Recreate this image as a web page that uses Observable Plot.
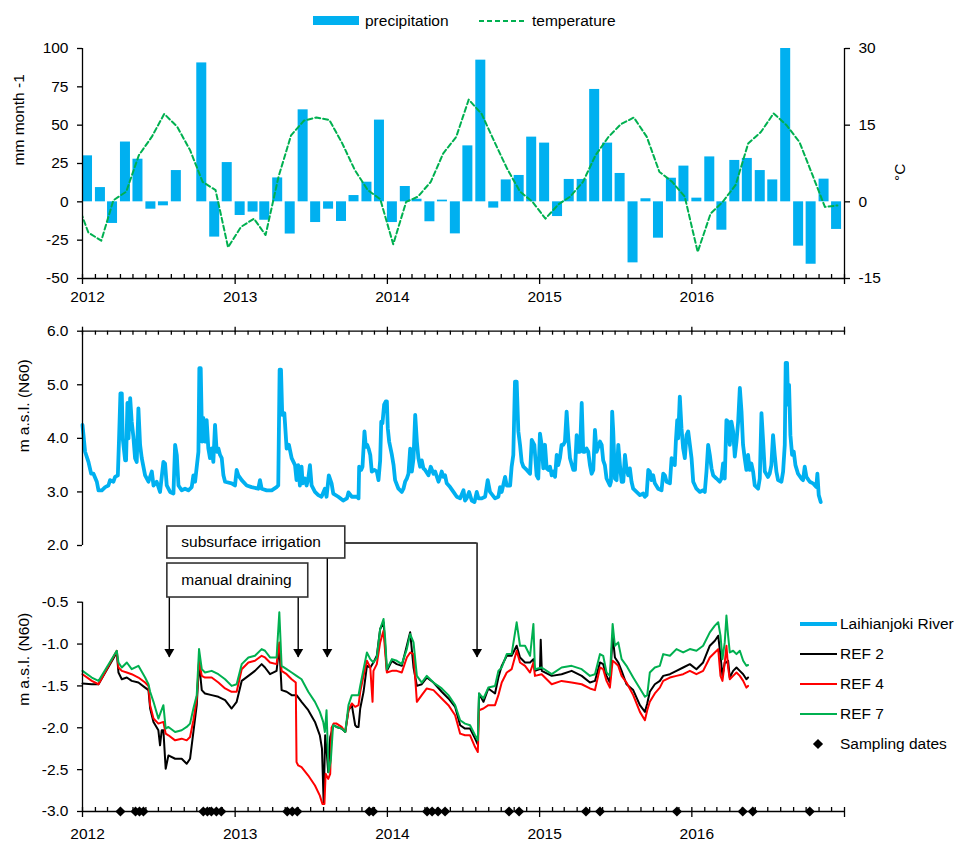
<!DOCTYPE html>
<html><head><meta charset="utf-8">
<script src="https://cdn.jsdelivr.net/npm/d3@7"></script>
<script src="https://cdn.jsdelivr.net/npm/@observablehq/plot@0.6"></script>
<style>
body{margin:0;background:#fff;}
#wrap{position:relative;width:957px;height:841px;overflow:hidden;font-family:"Liberation Sans",Arial,Helvetica,sans-serif;color:#000;}
</style></head><body><div id="wrap"></div>
<script>
// ---------------- DATA ----------------
// monthly precipitation surplus (mm month-1), Jan 2012 .. Dec 2016
const precipitation = [
  30, 9.3, -14.1, 39, 27.8, -4.8, -2.6, 20.4, 0, 90.6, -23, 25.6,
  -8.9, -6.7, -12, 15.6, -21, 60, -13.5, -4.8, -12.8, 4.1, 12.8, 53.3,
  -13.5, 10, 1.7, -13, 1.1, -20.9, 36.5, 92.4, -4.1, 14.3, 17.2, 42.2,
  38.3, -9.6, 14.6, 14.6, 73.3, 38.3, 18.5, -39.8, 2, -23.7, 15.4, 23.3,
  2.4, 29.3, -18.5, 27, 28.3, 20.4, 14.3, 100, -28.9, -40.7, 14.8, -18
];
// monthly mean temperature (°C), Dec 2011 .. Dec 2016
const temperatureDec2011 = 0.8;
const temperature = [
  -6.0, -7.6, 0.3, 2.0, 9.1, 12.7, 17.2, 14.7, 10.1, 3.9, 2.3, -8.9,
  -4.9, -3.3, -6.5, 4.9, 13.0, 15.9, 16.5, 16.0, 11.4, 6.2, 2.3, 0.5,
  -8.3, 0.0, 1.0, 3.9, 9.5, 12.7, 20.0, 17.2, 11.7, 6.5, 2.0, 0.0,
  -3.3, -0.5, 1.0, 3.9, 9.1, 12.7, 15.2, 16.5, 12.7, 5.9, 3.9, 1.0,
  -9.8, -2.3, 0.0, 3.3, 11.4, 13.7, 17.3, 15.0, 11.7, 5.5, -1.0, -0.7
];
// river water level [decimal year, m a.s.l.]
const riverLevel = [
[2012.000,4.25],[2012.017,3.75],[2012.039,3.56],[2012.057,3.34],[2012.072,3.34],[2012.094,3.19],[2012.105,3.03],[2012.127,3.03],[2012.149,3.09],[2012.170,3.12],[2012.181,3.22],[2012.203,3.19],[2012.214,3.28],[2012.232,3.31],[2012.240,4.00],[2012.249,4.84],[2012.258,4.84],[2012.264,4.00],[2012.280,3.59],[2012.286,3.59],[2012.295,4.66],[2012.302,4.00],[2012.313,4.75],[2012.323,4.31],[2012.334,4.03],[2012.345,3.63],[2012.356,3.56],[2012.367,4.56],[2012.378,3.88],[2012.389,3.63],[2012.411,3.31],[2012.433,3.19],[2012.455,3.38],[2012.466,3.12],[2012.487,3.19],[2012.509,3.00],[2012.531,3.56],[2012.542,3.53],[2012.553,3.12],[2012.575,3.00],[2012.597,2.97],[2012.608,3.88],[2012.619,3.69],[2012.630,3.12],[2012.651,3.03],[2012.673,3.06],[2012.695,3.03],[2012.717,3.09],[2012.728,3.31],[2012.739,3.19],[2012.761,3.75],[2012.767,5.31],[2012.776,5.31],[2012.785,3.94],[2012.793,4.38],[2012.804,3.94],[2012.815,4.34],[2012.826,3.81],[2012.837,3.63],[2012.848,3.81],[2012.859,3.56],[2012.870,4.25],[2012.881,3.75],[2012.892,3.81],[2012.903,3.69],[2012.914,3.63],[2012.925,3.31],[2012.936,3.19],[2012.979,3.16],[2013.001,3.12],[2013.012,3.41],[2013.023,3.31],[2013.045,3.22],[2013.078,3.12],[2013.110,3.09],[2013.154,3.06],[2013.165,3.22],[2013.176,3.06],[2013.209,3.03],[2013.242,3.03],[2013.274,3.09],[2013.285,3.12],[2013.294,5.28],[2013.303,5.28],[2013.311,4.44],[2013.325,4.47],[2013.340,3.81],[2013.355,3.88],[2013.373,3.63],[2013.395,3.50],[2013.405,3.22],[2013.416,3.50],[2013.427,3.12],[2013.438,3.47],[2013.445,3.16],[2013.460,3.25],[2013.471,3.12],[2013.482,3.25],[2013.493,3.50],[2013.504,3.12],[2013.526,3.00],[2013.548,2.94],[2013.569,2.91],[2013.591,3.06],[2013.602,2.91],[2013.617,3.31],[2013.635,3.16],[2013.646,2.97],[2013.679,2.91],[2013.711,2.84],
[2013.736,2.88],[2013.746,2.99],[2013.768,2.91],[2013.801,2.91],[2013.812,2.88],[2013.816,3.47],[2013.829,3.41],[2013.838,3.47],[2013.851,4.13],[2013.860,3.84],[2013.869,3.88],[2013.878,3.81],[2013.889,3.69],[2013.899,3.38],[2013.917,3.41],[2013.932,3.38],[2013.943,3.22],[2013.954,3.59],[2013.961,4.31],[2013.969,4.28],[2013.980,4.63],[2013.991,4.69],[2013.998,4.69],[2014.004,4.19],[2014.013,3.94],[2014.031,3.69],[2014.042,3.50],[2014.052,3.22],[2014.074,3.06],[2014.096,3.00],[2014.107,3.06],[2014.118,3.19],[2014.129,3.25],[2014.140,3.34],[2014.151,3.81],[2014.162,3.38],[2014.173,3.63],[2014.184,4.44],[2014.195,3.94],[2014.205,3.63],[2014.216,3.47],[2014.227,3.59],[2014.238,3.44],[2014.249,3.41],[2014.271,3.31],[2014.286,3.47],[2014.304,3.34],[2014.315,3.38],[2014.337,3.19],[2014.348,3.28],[2014.358,3.38],[2014.369,3.28],[2014.380,3.31],[2014.391,3.16],[2014.413,3.09],[2014.435,3.00],[2014.457,2.91],[2014.479,2.88],[2014.501,3.03],[2014.511,2.84],[2014.522,2.88],[2014.538,3.00],[2014.555,2.84],[2014.573,2.81],[2014.588,3.00],[2014.599,2.88],[2014.621,2.88],[2014.643,2.91],[2014.660,3.22],[2014.675,3.00],[2014.708,2.88],[2014.730,2.91],[2014.741,3.09],[2014.752,3.00],[2014.774,3.28],[2014.785,3.12],[2014.807,3.12],[2014.817,3.47],[2014.828,3.69],[2014.839,5.06],[2014.850,5.06],[2014.861,4.13],[2014.872,3.88],[2014.883,3.56],[2014.894,3.47],[2014.916,3.41],[2014.938,3.34],[2014.949,3.97],[2014.966,3.88],[2014.981,3.31],[2014.992,3.25],[2015.003,4.09],[2015.014,3.88],[2015.025,3.44],[2015.036,3.88],[2015.047,3.44],[2015.058,3.41],[2015.069,3.47],[2015.080,3.31],[2015.091,3.38],[2015.102,3.28],[2015.113,3.69],[2015.123,3.50],[2015.134,3.63],[2015.145,3.88],[2015.156,3.88],[2015.167,3.94],[2015.178,4.50],[2015.189,4.00],[2015.200,3.63],[2015.222,3.41],[2015.233,3.41],[2015.244,4.06],[2015.255,3.75],[2015.266,3.75],[2015.277,4.66],[2015.287,3.75],[2015.298,3.75],[2015.309,3.81],[2015.320,3.75],[2015.331,3.50],[2015.342,3.34],[2015.353,3.41],[2015.364,4.16],[2015.375,3.75],[2015.397,3.94],
[2015.408,3.88],[2015.418,3.59],[2015.429,3.50],[2015.440,3.25],[2015.462,3.12],[2015.469,3.19],[2015.477,4.50],[2015.484,4.13],[2015.495,3.25],[2015.506,3.22],[2015.517,3.88],[2015.528,3.50],[2015.539,3.19],[2015.550,3.19],[2015.561,3.69],[2015.571,3.44],[2015.582,3.31],[2015.593,3.44],[2015.604,3.19],[2015.615,3.06],[2015.637,3.00],[2015.659,2.94],[2015.681,2.97],[2015.692,2.91],[2015.703,2.94],[2015.714,3.41],[2015.724,3.38],[2015.735,3.22],[2015.746,3.31],[2015.757,3.16],[2015.779,3.06],[2015.801,3.03],[2015.812,3.34],[2015.823,3.31],[2015.834,3.19],[2015.856,3.16],[2015.867,3.63],[2015.877,3.59],[2015.888,3.50],[2015.895,3.94],[2015.904,4.34],[2015.910,4.00],[2015.921,4.78],[2015.932,4.19],[2015.943,3.81],[2015.954,3.63],[2015.965,4.06],[2015.976,4.13],[2015.987,3.88],[2015.998,3.63],[2016.009,3.19],[2016.030,3.06],[2016.052,3.00],[2016.074,3.03],[2016.085,3.00],[2016.096,3.38],[2016.107,3.88],[2016.118,3.69],[2016.129,3.44],[2016.140,3.31],[2016.162,3.25],[2016.183,3.19],[2016.194,3.25],[2016.205,3.53],[2016.216,3.25],[2016.227,4.34],[2016.238,4.31],[2016.249,3.88],[2016.260,4.31],[2016.271,4.13],[2016.282,3.66],[2016.293,3.94],[2016.304,4.31],[2016.315,4.94],[2016.326,4.50],[2016.336,3.88],[2016.347,3.63],[2016.358,3.41],[2016.369,3.69],[2016.380,3.41],[2016.391,3.53],[2016.402,3.38],[2016.413,3.12],[2016.435,3.06],[2016.446,3.25],[2016.457,4.47],[2016.468,3.94],[2016.479,3.38],[2016.500,3.28],[2016.511,3.34],[2016.522,3.50],[2016.533,4.06],[2016.544,3.69],[2016.555,3.38],[2016.566,3.22],[2016.588,3.19],[2016.599,3.38],[2016.610,3.88],[2016.616,5.41],[2016.625,5.41],[2016.632,4.63],[2016.638,5.00],[2016.647,4.06],[2016.658,3.69],[2016.669,3.75],[2016.680,3.50],[2016.697,3.34],[2016.719,3.25],[2016.730,3.22],[2016.741,3.47],[2016.752,3.28],[2016.774,3.19],[2016.795,3.16],[2016.817,3.09],[2016.824,3.34],[2016.833,2.94],[2016.846,2.81]
];
// groundwater levels [decimal year, m a.s.l.]
const ref2 = [
[2012.000,-1.47],[2012.061,-1.48],[2012.105,-1.48],[2012.225,-1.10],[2012.236,-1.34],[2012.258,-1.42],[2012.291,-1.40],[2012.323,-1.44],[2012.367,-1.46],[2012.411,-1.52],[2012.433,-1.55],[2012.444,-1.77],[2012.466,-1.93],[2012.498,-2.03],[2012.509,-2.21],[2012.520,-2.03],[2012.531,-2.03],[2012.546,-2.49],[2012.564,-2.33],[2012.608,-2.37],[2012.651,-2.37],[2012.684,-2.43],[2012.706,-2.37],[2012.728,-2.05],[2012.750,-1.73],[2012.765,-1.22],[2012.783,-1.55],[2012.804,-1.59],[2012.848,-1.61],[2012.892,-1.63],[2012.936,-1.67],[2012.979,-1.77],[2013.012,-1.69],[2013.045,-1.44],[2013.089,-1.38],[2013.132,-1.32],[2013.176,-1.24],[2013.198,-1.28],[2013.231,-1.36],[2013.274,-1.32],[2013.292,-1.02],[2013.307,-1.55],[2013.340,-1.57],[2013.373,-1.61],[2013.405,-1.61],[2013.438,-1.69],[2013.482,-1.79],[2013.526,-1.93],[2013.558,-2.09],[2013.572,-2.25],[2013.583,-2.89],[2013.593,-2.09],[2013.604,-2.31],[2013.613,-2.53],[2013.626,-2.11],[2013.648,-1.97],[2013.668,-1.99],[2013.701,-2.01],
[2013.725,-2.05],[2013.746,-1.79],[2013.768,-1.73],[2013.790,-1.97],[2013.801,-1.99],[2013.812,-1.99],[2013.823,-1.77],[2013.845,-1.57],[2013.867,-1.26],[2013.889,-1.28],[2013.910,-1.22],[2013.932,-1.14],[2013.954,-0.82],[2013.976,-0.74],[2013.987,-1.02],[2013.998,-1.32],[2014.031,-1.20],[2014.063,-1.24],[2014.096,-1.26],[2014.129,-1.02],[2014.151,-0.86],[2014.173,-1.28],[2014.195,-1.50],[2014.227,-1.48],[2014.260,-1.40],[2014.304,-1.46],[2014.358,-1.57],[2014.402,-1.65],[2014.446,-1.75],[2014.479,-1.97],[2014.511,-2.01],[2014.544,-2.01],[2014.577,-2.13],[2014.595,-2.20],[2014.603,-1.59],[2014.632,-1.69],[2014.664,-1.53],[2014.708,-1.59],[2014.730,-1.40],[2014.752,-1.26],[2014.785,-1.14],[2014.817,-1.14],[2014.850,-1.02],[2014.872,-1.16],[2014.905,-1.22],[2014.938,-1.22],[2014.960,-1.18],[2014.970,-1.32],[2015.003,-1.30],[2015.008,-0.95],[2015.015,-1.32],[2015.080,-1.38],[2015.145,-1.36],[2015.211,-1.32],[2015.277,-1.38],[2015.331,-1.46],
[2015.364,-1.44],[2015.397,-1.22],[2015.418,-1.24],[2015.440,-1.38],[2015.462,-1.46],[2015.480,-0.90],[2015.495,-1.16],[2015.517,-1.22],[2015.539,-1.32],[2015.571,-1.48],[2015.615,-1.55],[2015.659,-1.73],[2015.692,-1.81],[2015.707,-1.71],[2015.724,-1.57],[2015.757,-1.48],[2015.790,-1.44],[2015.812,-1.38],[2015.856,-1.36],[2015.899,-1.32],[2015.943,-1.28],[2015.987,-1.24],[2016.030,-1.30],[2016.074,-1.22],[2016.118,-1.02],[2016.151,-0.96],[2016.173,-0.90],[2016.188,-1.14],[2016.201,-1.38],[2016.216,-1.22],[2016.227,-1.22],[2016.238,-1.20],[2016.249,-1.40],[2016.271,-1.32],[2016.293,-1.28],[2016.315,-1.32],[2016.337,-1.36],[2016.358,-1.42],[2016.369,-1.40]
];
const ref4 = [
[2012.000,-1.36],[2012.061,-1.44],[2012.105,-1.48],[2012.225,-1.08],[2012.236,-1.28],[2012.258,-1.32],[2012.291,-1.34],[2012.323,-1.36],[2012.367,-1.40],[2012.411,-1.46],[2012.433,-1.50],[2012.444,-1.73],[2012.466,-1.89],[2012.498,-1.95],[2012.531,-1.93],[2012.546,-2.07],[2012.564,-2.09],[2012.608,-2.15],[2012.651,-2.13],[2012.684,-2.15],[2012.706,-2.11],[2012.728,-1.91],[2012.750,-1.65],[2012.765,-1.20],[2012.783,-1.38],[2012.804,-1.40],[2012.848,-1.40],[2012.892,-1.46],[2012.936,-1.53],[2012.979,-1.57],[2013.012,-1.57],[2013.045,-1.30],[2013.089,-1.22],[2013.132,-1.20],[2013.176,-1.14],[2013.198,-1.16],[2013.231,-1.22],[2013.274,-1.24],[2013.292,-0.98],[2013.307,-1.32],[2013.340,-1.36],[2013.373,-1.42],[2013.400,-1.46],[2013.405,-2.41],[2013.416,-2.45],[2013.438,-2.47],[2013.482,-2.57],[2013.526,-2.69],[2013.558,-2.81],[2013.575,-2.91],[2013.588,-2.91],[2013.596,-2.55],[2013.613,-2.61],[2013.626,-2.55],[2013.635,-2.00],[2013.648,-1.95],[2013.668,-1.95],[2013.701,-1.99],
[2013.725,-2.05],[2013.746,-1.79],[2013.768,-1.71],[2013.790,-1.75],[2013.812,-1.73],[2013.823,-1.57],[2013.845,-1.38],[2013.867,-1.20],[2013.889,-1.28],[2013.904,-1.69],[2013.910,-1.32],[2013.932,-1.24],[2013.954,-0.98],[2013.976,-0.84],[2013.987,-1.10],[2013.998,-1.34],[2014.031,-1.32],[2014.063,-1.32],[2014.096,-1.34],[2014.129,-1.16],[2014.151,-1.10],[2014.173,-1.12],[2014.195,-1.69],[2014.227,-1.61],[2014.260,-1.53],[2014.304,-1.55],[2014.358,-1.65],[2014.402,-1.73],[2014.446,-1.85],[2014.479,-2.07],[2014.511,-2.09],[2014.544,-2.09],[2014.577,-2.23],[2014.595,-2.29],[2014.603,-1.79],[2014.632,-1.77],[2014.664,-1.73],[2014.708,-1.73],[2014.730,-1.61],[2014.752,-1.46],[2014.785,-1.34],[2014.817,-1.30],[2014.850,-1.08],[2014.872,-1.22],[2014.905,-1.26],[2014.938,-1.34],[2014.960,-1.22],[2014.970,-1.38],[2015.014,-1.36],[2015.080,-1.48],[2015.145,-1.44],[2015.211,-1.46],[2015.277,-1.48],[2015.331,-1.53],
[2015.364,-1.55],[2015.397,-1.28],[2015.418,-1.30],[2015.440,-1.44],[2015.462,-1.52],[2015.480,-1.20],[2015.495,-1.22],[2015.517,-1.26],[2015.539,-1.38],[2015.571,-1.46],[2015.615,-1.61],[2015.659,-1.81],[2015.692,-1.91],[2015.707,-1.79],[2015.724,-1.69],[2015.757,-1.59],[2015.790,-1.52],[2015.812,-1.44],[2015.856,-1.40],[2015.899,-1.38],[2015.943,-1.36],[2015.987,-1.32],[2016.030,-1.36],[2016.074,-1.32],[2016.118,-1.16],[2016.151,-1.10],[2016.173,-1.06],[2016.188,-1.38],[2016.201,-1.44],[2016.216,-1.22],[2016.227,-1.02],[2016.238,-1.28],[2016.249,-1.42],[2016.271,-1.38],[2016.293,-1.34],[2016.315,-1.38],[2016.337,-1.44],[2016.358,-1.52],[2016.369,-1.50]
];
const ref7 = [
[2012.000,-1.32],[2012.061,-1.40],[2012.105,-1.44],[2012.225,-1.08],[2012.236,-1.22],[2012.258,-1.28],[2012.291,-1.22],[2012.323,-1.30],[2012.367,-1.26],[2012.411,-1.40],[2012.433,-1.48],[2012.444,-1.57],[2012.466,-1.69],[2012.498,-1.89],[2012.531,-1.73],[2012.546,-2.01],[2012.564,-1.99],[2012.608,-2.05],[2012.651,-2.03],[2012.684,-1.99],[2012.706,-1.95],[2012.728,-1.77],[2012.750,-1.61],[2012.765,-1.06],[2012.783,-1.30],[2012.804,-1.34],[2012.848,-1.32],[2012.892,-1.36],[2012.936,-1.42],[2012.979,-1.50],[2013.012,-1.48],[2013.045,-1.24],[2013.089,-1.16],[2013.132,-1.14],[2013.176,-1.06],[2013.198,-1.08],[2013.231,-1.16],[2013.274,-1.16],[2013.292,-0.62],[2013.307,-1.26],[2013.340,-1.30],[2013.373,-1.34],[2013.405,-1.38],[2013.438,-1.42],[2013.482,-1.57],[2013.526,-1.69],[2013.558,-1.81],[2013.580,-1.93],[2013.591,-2.05],[2013.602,-1.79],[2013.615,-2.53],[2013.630,-2.39],[2013.645,-1.97],[2013.668,-1.99],[2013.701,-2.01],
[2013.725,-2.05],[2013.746,-1.73],[2013.768,-1.61],[2013.790,-1.61],[2013.812,-1.61],[2013.823,-1.50],[2013.845,-1.30],[2013.867,-1.10],[2013.889,-1.18],[2013.910,-1.22],[2013.932,-1.16],[2013.954,-0.82],[2013.976,-0.70],[2013.987,-0.94],[2013.998,-1.30],[2014.031,-1.18],[2014.063,-1.20],[2014.096,-1.24],[2014.129,-1.06],[2014.151,-0.88],[2014.173,-0.98],[2014.195,-1.38],[2014.227,-1.46],[2014.260,-1.38],[2014.304,-1.46],[2014.358,-1.53],[2014.402,-1.61],[2014.446,-1.73],[2014.479,-1.91],[2014.511,-1.95],[2014.544,-1.97],[2014.577,-2.09],[2014.595,-2.15],[2014.603,-1.59],[2014.632,-1.65],[2014.664,-1.52],[2014.708,-1.50],[2014.730,-1.32],[2014.752,-1.28],[2014.785,-1.12],[2014.817,-1.12],[2014.850,-0.74],[2014.872,-1.02],[2014.905,-1.02],[2014.938,-1.14],[2014.960,-0.76],[2014.970,-1.30],[2015.014,-1.28],[2015.080,-1.36],[2015.145,-1.28],[2015.211,-1.26],[2015.277,-1.30],[2015.331,-1.38],
[2015.364,-1.36],[2015.397,-1.12],[2015.418,-1.14],[2015.440,-1.34],[2015.462,-1.38],[2015.480,-0.76],[2015.495,-1.02],[2015.517,-0.98],[2015.539,-1.18],[2015.571,-1.26],[2015.615,-1.40],[2015.659,-1.53],[2015.692,-1.63],[2015.707,-1.61],[2015.724,-1.34],[2015.757,-1.28],[2015.790,-1.26],[2015.812,-1.12],[2015.856,-1.14],[2015.899,-1.06],[2015.943,-1.10],[2015.987,-1.06],[2016.030,-1.08],[2016.074,-1.02],[2016.118,-0.86],[2016.151,-0.78],[2016.173,-0.74],[2016.188,-0.90],[2016.201,-1.18],[2016.216,-0.98],[2016.227,-0.66],[2016.238,-0.90],[2016.249,-1.10],[2016.271,-1.08],[2016.293,-1.12],[2016.315,-1.08],[2016.337,-1.20],[2016.358,-1.26],[2016.369,-1.25]
];
// sampling dates (decimal year)
const samplingDates = [2012.249, 2012.348, 2012.374, 2012.400, 2012.793, 2012.820, 2012.846, 2012.879, 2012.911,
  2013.344, 2013.377, 2013.410, 2013.882, 2013.908, 2014.262, 2014.295, 2014.334, 2014.380,
  2014.800, 2014.866, 2015.305, 2015.397, 2015.902, 2016.334, 2016.400, 2016.774];
// management events (decimal year) shown with arrows
const annotationLabels = ["subsurface irrigation", "manual draining"];
const eventDates = {"manual draining": [2012.570, 2013.416], "subsurface irrigation": [2013.607, 2014.590]};
const seriesNames = ["Laihianjoki River", "REF 2", "REF 4", "REF 7", "Sampling dates"];
const topLegendNames = ["precipitation", "temperature"];

// ---------------- SETUP ----------------
const FONT = '"Liberation Sans", Arial, Helvetica, sans-serif';
const BLUE = "#00B0F0", GREEN = "#00B050", RED = "#FF0000", BLACK = "#000000";
const FS = "15.5px";
const wrap = document.getElementById("wrap");
const T0 = Date.UTC(2012, 0, 1);
const yr = t => new Date(T0 + (t - 2012) * 365.25 * 864e5);
const xStart = new Date(Date.UTC(2012, 0, 1)), xEnd = new Date(Date.UTC(2017, 0, 1));
const monthTicks = d3.utcMonth.range(xStart, new Date(+xEnd + 1));
const yearTicks = d3.utcYear.range(xStart, new Date(+xEnd + 1));
const yearLabelTicks = yearTicks.filter(d => d < xEnd);
const styleStr = `background:transparent;font-family:${FONT};font-size:${FS};color:#000;overflow:visible;`;
const AX = {stroke: BLACK, strokeWidth: 1.3};

function place(el, top) {
  el.style.position = "absolute"; el.style.left = "0px"; el.style.top = top + "px";
  wrap.appendChild(el);
}
const precipData = precipitation.map((p, i) => {
  const s = new Date(Date.UTC(2012, i, 1));
  return {start: s, end: new Date(+s + 24 * 864e5), p};
});
const tempData = [{x: new Date(Date.UTC(2011, 11, 15)), T: temperatureDec2011}]
  .concat(temperature.map((T, i) => ({x: new Date(Date.UTC(2012, i, 15)), T})));
const toPts = arr => arr.map(([t, v]) => ({x: yr(t), v}));

function bottomAxis(yBase, pad) {
  return [
    Plot.ruleY([yBase], AX),
    Plot.ruleX(monthTicks, {x: d => d, y1: yBase, y2: yBase, insetTop: -4, ...AX}),
    Plot.axisX({ticks: yearTicks, tickSize: 6, tickFormat: () => "", label: null, strokeWidth: 1.3}),
    Plot.axisX({ticks: yearLabelTicks, tickSize: 0, tickPadding: pad, dx: 5, label: null,
      tickFormat: d => String(d.getUTCFullYear())})
  ];
}
function leftAxis(ticks, fmt, xLabel, dx, dy) {
  return [
    Plot.ruleX([xStart], AX),
    Plot.axisY({ticks, tickSize: 5, tickPadding: 9, tickFormat: fmt, label: null, strokeWidth: 1.3}),
    Plot.text([xLabel], {text: d => d, frameAnchor: "left", dx, dy, rotate: -90})
  ];
}

// ---------------- TOP PANEL ----------------
const p1 = Plot.plot({
  width: 957, height: 310, marginLeft: 82, marginRight: 113, marginTop: 48, marginBottom: 32,
  style: styleStr,
  x: {type: "utc", domain: [xStart, xEnd]},
  y: {domain: [-50, 100]},
  marks: [
    Plot.rect(precipData, {x1: "start", x2: "end", y1: 0, y2: "p", fill: BLUE}),
    Plot.line(tempData, {x: "x", y: d => d.T * 10 / 3, stroke: GREEN, strokeWidth: 2, strokeDasharray: "5,3", clip: true}),
    ...bottomAxis(-50, 12),
    ...leftAxis([-50, -25, 0, 25, 50, 75, 100], d => String(d), "mm month -1", -63, 2),
    Plot.ruleX([xEnd], AX),
    Plot.axisY({anchor: "right", ticks: [-50, 0, 50, 100], tickSize: 5, tickPadding: 9, label: null,
      strokeWidth: 1.3, tickFormat: d => String(Math.round(d * 3 / 10))}),
    Plot.text(["°C"], {text: d => d, frameAnchor: "right", dx: 56, rotate: -90})
  ]
});
place(p1, 0);

// ---------------- MIDDLE PANEL ----------------
const p2 = Plot.plot({
  width: 957, height: 245, marginLeft: 82, marginRight: 113, marginTop: 20.7, marginBottom: 10,
  style: styleStr,
  x: {type: "utc", domain: [xStart, xEnd]},
  y: {domain: [2, 6]},
  marks: [
    Plot.line(toPts(riverLevel), {x: "x", y: "v", stroke: BLUE, strokeWidth: 3.8, strokeLinejoin: "round"}),
    Plot.ruleY([6], AX),
    Plot.ruleX(monthTicks, {x: d => d, y1: 6, y2: 6, insetBottom: -4, ...AX}),
    Plot.axisX({anchor: "top", ticks: yearTicks, tickSize: 5, tickFormat: () => "", label: null, strokeWidth: 1.3}),
    ...leftAxis([2, 3, 4, 5, 6], d => d.toFixed(1), "m a.s.l. (N60)", -58, 14)
  ]
});
place(p2, 310);

// ---------------- BOTTOM PANEL ----------------
const boxes = [
  {label: annotationLabels[0], t1: 2012.557, t2: 2013.725, top: 0.404, bottom: 0.022},
  {label: annotationLabels[1], t1: 2012.557, t2: 2013.482, top: -0.038, bottom: -0.444}
];
const arrowTip = -1.161;
const arrows = [
  ...eventDates["manual draining"].map(t => ({t, from: boxes[1].bottom})),
  {t: eventDates["subsurface irrigation"][0], from: boxes[0].bottom},
  {t: eventDates["subsurface irrigation"][1], from: (boxes[0].top + boxes[0].bottom) / 2 - 0.006}
];
const connector = [{x1: boxes[0].t2, x2: eventDates["subsurface irrigation"][1], y: arrows[3].from}];

const p3 = Plot.plot({
  width: 957, height: 326, marginLeft: 82, marginRight: 113, marginTop: 86.7, marginBottom: 30,
  style: styleStr,
  x: {type: "utc", domain: [xStart, xEnd]},
  y: {domain: [-3, -0.5]},
  marks: [
    Plot.line(toPts(ref2), {x: "x", y: "v", stroke: BLACK, strokeWidth: 2}),
    Plot.line(toPts(ref4), {x: "x", y: "v", stroke: RED, strokeWidth: 2}),
    Plot.line(toPts(ref7), {x: "x", y: "v", stroke: GREEN, strokeWidth: 2}),
    ...bottomAxis(-3, 16),
    ...leftAxis([-3, -2.5, -2, -1.5, -1, -0.5], d => d.toFixed(1), "m a.s.l. (N60)", -58, -1),
    Plot.dot(samplingDates, {x: d => yr(d), y: -3, symbol: "diamond2", r: 4.6, fill: BLACK, stroke: "none"}),
    // annotations
    Plot.ruleX(arrows, {x: d => yr(d.t), y1: "from", y2: arrowTip, stroke: BLACK, strokeWidth: 1.4}),
    Plot.ruleY(connector, {x1: d => yr(d.x1), x2: d => yr(d.x2), y: "y", stroke: BLACK, strokeWidth: 1.4}),
    Plot.dot(arrows, {x: d => yr(d.t), y: arrowTip, symbol: "triangle", r: 3.7, rotate: 180, dy: -5.75, fill: BLACK, stroke: "none"}),
    Plot.rect(boxes, {x1: d => yr(d.t1), x2: d => yr(d.t2), y1: "bottom", y2: "top", fill: "white", stroke: "#333", strokeWidth: 1.6}),
    Plot.text(boxes, {x: d => yr(d.t1), y: d => (d.top + d.bottom) / 2, text: "label", textAnchor: "start", dx: 14})
  ]
});
place(p3, 515);

// ---------------- LEGENDS ----------------
// top legend
const lt = d3.select(wrap).append("svg").attr("width", 360).attr("height", 30)
  .style("position", "absolute").style("left", "300px").style("top", "6px")
  .style("font-family", FONT).style("font-size", FS);
lt.append("rect").attr("x", 13).attr("y", 10).attr("width", 46).attr("height", 9).attr("fill", BLUE);
lt.append("text").attr("x", 65).attr("y", 15).attr("dy", "0.35em").text(topLegendNames[0]);
lt.append("line").attr("x1", 179).attr("x2", 227).attr("y1", 15).attr("y2", 15)
  .attr("stroke", GREEN).attr("stroke-width", 2).attr("stroke-dasharray", "5,3");
lt.append("text").attr("x", 232).attr("y", 15).attr("dy", "0.35em").text(topLegendNames[1]);

// right legend
const lr = d3.select(wrap).append("svg").attr("width", 170).attr("height", 160)
  .style("position", "absolute").style("left", "790px").style("top", "605px")
  .style("font-family", FONT).style("font-size", FS);
const legendStyles = [
  {color: BLUE, w: 4}, {color: BLACK, w: 2}, {color: RED, w: 2}, {color: GREEN, w: 2}, {diamond: true}
];
seriesNames.forEach((name, i) => {
  const y = 19 + i * 30, s = legendStyles[i];
  if (s.diamond) {
    lr.append("path").attr("d", d3.symbol(d3.symbolDiamond2, 66)()).attr("transform", `translate(28,${y})`).attr("fill", BLACK);
  } else {
    lr.append("line").attr("x1", 10).attr("x2", 47).attr("y1", y).attr("y2", y)
      .attr("stroke", s.color).attr("stroke-width", s.w);
  }
  lr.append("text").attr("x", 50).attr("y", y).attr("dy", "0.35em").text(name);
});
</script></body></html>
